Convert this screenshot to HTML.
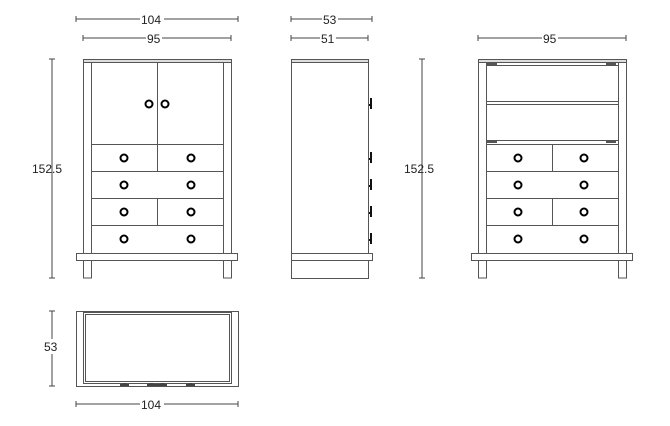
<!DOCTYPE html>
<html><head><meta charset="utf-8"><style>
html,body{margin:0;padding:0;background:#fff;width:670px;height:426px;overflow:hidden}
svg{display:block}
text{font-family:"Liberation Sans",sans-serif;font-size:12px;fill:#222}
</style></head><body>
<svg width="670" height="426" viewBox="0 0 670 426" xmlns="http://www.w3.org/2000/svg">
<g fill="none" stroke="#444" stroke-width="1">
<path d="M76 19H238M76 16v6M238 16v6"/>
<path d="M83 38H231M83 35v6M231 35v6"/>
<path d="M291 19H372M291 16v6M372 16v6"/>
<path d="M291 38H368M291 35v6M368 35v6"/>
<path d="M478 38H626M478 35v6M626 35v6"/>
<path d="M52 59V278M49 59h6M49 278h6"/>
<path d="M422 59V278M419 59h6M419 278h6"/>
<path d="M52 311V386M49 311h6M49 386h6"/>
<path d="M76 404H238M76 401v6M238 401v6"/>
</g>
<g fill="#fff">
<rect x="140" y="12" width="24" height="14"/>
<rect x="146" y="31" width="16" height="14"/>
<rect x="322" y="12" width="16" height="14"/>
<rect x="320" y="31" width="16" height="14"/>
<rect x="542" y="31" width="16" height="14"/>
<rect x="140" y="397" width="24" height="14"/>
<rect x="43" y="339" width="16" height="15"/>
</g>
<text x="141" y="24">104</text>
<text x="147" y="43">95</text>
<text x="323" y="24">53</text>
<text x="321" y="43">51</text>
<text x="543" y="43">95</text>
<text x="141" y="409">104</text>
<text x="44" y="351">53</text>
<text x="32" y="173">152.5</text>
<text x="404" y="173">152.5</text>

<g fill="none" stroke="#555" stroke-width="1">
<rect x="83.5" y="59.5" width="148" height="3" fill="#ddd"/>
<path d="M83.5 62V253M91.5 62V253M223.5 62V253M231.5 62V253"/>
<rect x="76.5" y="253.5" width="161" height="7"/>
<rect x="83.5" y="260.5" width="8" height="17.5"/>
<rect x="223.5" y="260.5" width="8" height="17.5"/>
<path d="M157.5 62V144"/>
<path d="M91 144.5H223M91 171.5H223M91 198.5H223M91 225.5H223"/>
<path d="M157.5 144V171M157.5 198V225"/>
</g>
<g fill="none" stroke="#000" stroke-width="2">
<circle cx="149" cy="104" r="3.5"/><circle cx="165" cy="104" r="3.5"/>
<circle cx="124" cy="158" r="3.5"/><circle cx="191" cy="158" r="3.5"/>
<circle cx="124" cy="185" r="3.5"/><circle cx="191" cy="185" r="3.5"/>
<circle cx="124" cy="212" r="3.5"/><circle cx="191" cy="212" r="3.5"/>
<circle cx="124" cy="239" r="3.5"/><circle cx="191" cy="239" r="3.5"/>
</g>

<g fill="none" stroke="#555" stroke-width="1">
<rect x="291.5" y="59.5" width="77" height="3" fill="#ddd"/>
<path d="M291.5 62V253M368.5 62V253"/>
<rect x="291.5" y="253.5" width="81" height="7"/>
<path d="M291.5 261V278.5H368.5V261"/>
</g>
<g fill="#111">
<rect x="369" y="104" width="2" height="2"/><rect x="370" y="98" width="2" height="11"/>
<rect x="369" y="158" width="2" height="2"/><rect x="370" y="152" width="2" height="11"/>
<rect x="369" y="185" width="2" height="2"/><rect x="370" y="179" width="2" height="11"/>
<rect x="369" y="212" width="2" height="2"/><rect x="370" y="206" width="2" height="11"/>
<rect x="369" y="239" width="2" height="2"/><rect x="370" y="233" width="2" height="11"/>
</g>

<g fill="none" stroke="#555" stroke-width="1">
<rect x="478.5" y="59.5" width="148" height="3" fill="#ddd"/>
<path d="M478.5 62V253M486.5 62V253M618.5 62V253M626.5 62V253"/>
<rect x="471.5" y="253.5" width="161" height="7"/>
<rect x="478.5" y="260.5" width="8" height="17.5"/>
<rect x="618.5" y="260.5" width="8" height="17.5"/>
<path d="M486 65.5H618M486 101.5H618M486 104.5H618M486 140.5H618"/>
<path d="M486 144.5H618M486 171.5H618M486 198.5H618M486 225.5H618"/>
<path d="M552.5 144V171M552.5 198V225"/>
</g>
<g fill="#555">
<rect x="487" y="63" width="10" height="3"/><rect x="606" y="63" width="10" height="3"/>
<rect x="487" y="140" width="10" height="3"/><rect x="606" y="140" width="10" height="3"/>
</g>
<g fill="none" stroke="#000" stroke-width="2">
<circle cx="518" cy="158" r="3.5"/><circle cx="584" cy="158" r="3.5"/>
<circle cx="518" cy="185" r="3.5"/><circle cx="584" cy="185" r="3.5"/>
<circle cx="518" cy="212" r="3.5"/><circle cx="584" cy="212" r="3.5"/>
<circle cx="518" cy="239" r="3.5"/><circle cx="584" cy="239" r="3.5"/>
</g>

<g fill="none" stroke="#555" stroke-width="1">
<path d="M76.5 311V386.5H238.5V311M76 311.5H238"/>
<rect x="83.5" y="312.5" width="148" height="71"/>
<rect x="85.5" y="314.5" width="144" height="67"/>
</g>
<g fill="#444">
<rect x="120" y="384" width="9" height="2"/><rect x="123" y="383" width="3" height="1"/>
<rect x="147" y="384" width="20" height="2"/><rect x="150" y="383" width="3" height="1"/><rect x="161" y="383" width="3" height="1"/>
<rect x="186" y="384" width="9" height="2"/><rect x="189" y="383" width="3" height="1"/>
</g>
</svg>
</body></html>
